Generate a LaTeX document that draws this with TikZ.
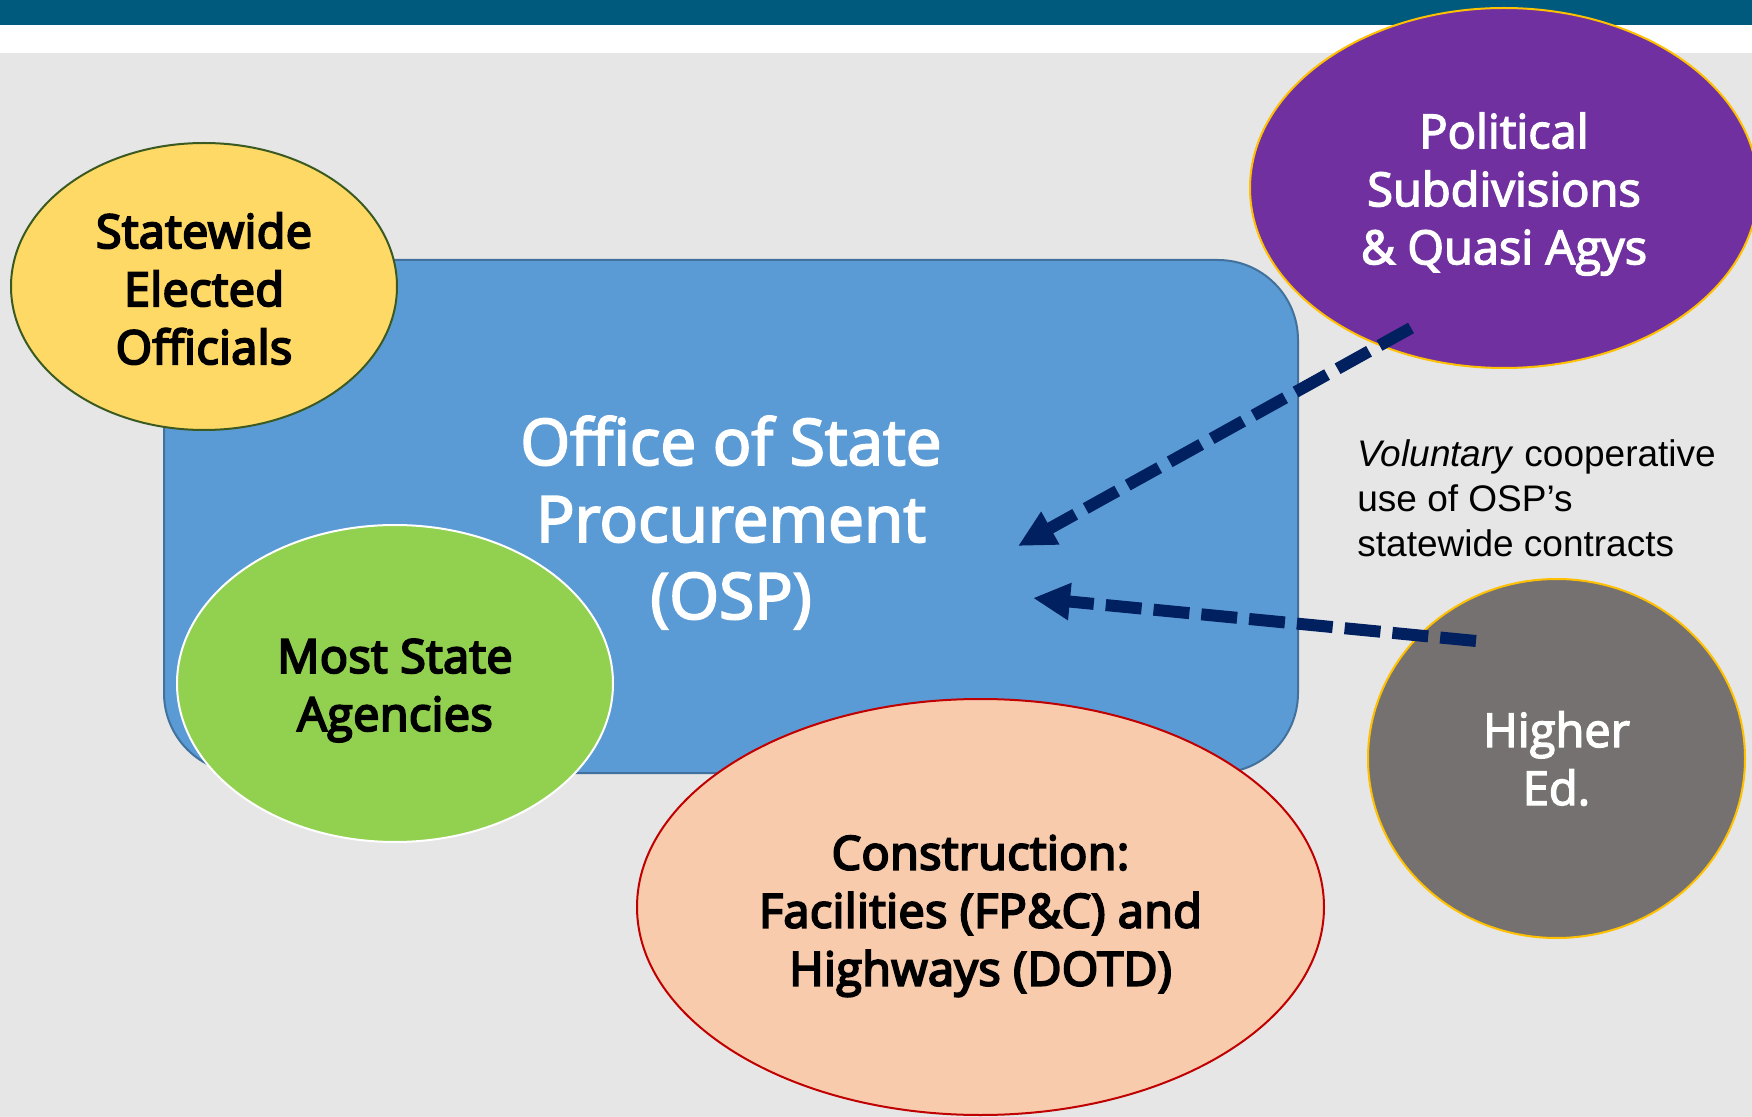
\documentclass[tikz,border=0pt]{standalone}
\usepackage{fontspec}
\setmainfont{Open Sans}
\newfontfamily\sbfont{Open Sans}[FakeBold=4.5,LetterSpace=1]
\newfontfamily\wfont{Open Sans}[FakeBold=3]
\newfontfamily\arialf{Liberation Sans}
\usetikzlibrary{arrows.meta,shapes.geometric}
\definecolor{band}{HTML}{005A7E}
\definecolor{bgc}{HTML}{E6E6E6}
\definecolor{ospfill}{HTML}{5B9BD5}
\definecolor{ospline}{HTML}{41719C}
\definecolor{yel}{HTML}{FFD966}
\definecolor{yelline}{HTML}{3B5A22}
\definecolor{grn}{HTML}{92D050}
\definecolor{pur}{HTML}{7030A0}
\definecolor{gold}{HTML}{FFC000}
\definecolor{gry}{HTML}{767171}
\definecolor{peach}{HTML}{F8CBAD}
\definecolor{redline}{HTML}{C00000}
\definecolor{navy}{HTML}{002060}
\tikzset{
  blob/.style={ellipse, inner sep=0pt, line width=1pt},
  blacktext/.style={inner sep=0pt, align=center, font=\sbfont\fontsize{23.3pt}{29pt}\selectfont, text=black},
  whitetext/.style={inner sep=0pt, align=center, font=\wfont\fontsize{23.5pt}{29pt}\selectfont, text=white},
  voluntaryarrow/.style={draw=navy, line width=6pt, dash pattern=on 18pt off 6pt,
    -{Triangle[length=18.5pt,width=17.5pt]}}
}
\begin{document}
\begin{tikzpicture}[x=0.5pt,y=-0.5pt]
\useasboundingbox (0,0) rectangle (1752,1117);
\fill[bgc] (0,0) rectangle (1752,1117);
\fill[white] (0,25) rectangle (1752,53);
\fill[band] (0,0) rectangle (1752,25);

\node[draw=ospline, fill=ospfill, line width=1pt, rectangle, rounded corners=40pt,
  minimum width=567pt, minimum height=256.5pt] (osp) at (731,516.5) {};
\node[inner sep=0pt, align=center, text=white,
  font=\wfont\fontsize{32pt}{38.5pt}\selectfont] (osptext) at ([yshift=-3pt]osp.center)
  {Office of State\\Procurement\\(OSP)};

\node[blob, draw=yelline, fill=yel, minimum width=193pt, minimum height=143.5pt]
  (swe) at (204,286.5) {};
\node[blacktext] (swetext) at ([yshift=-1pt]swe.center) {Statewide\\Elected\\Officials};

\node[blob, draw=white, fill=grn, minimum width=218pt, minimum height=158.5pt]
  (msa) at (395,683.5) {};
\node[blacktext] (msatext) at ([yshift=-3.5pt]msa.center) {Most State\\Agencies};

\node[blob, draw=redline, fill=peach, minimum width=343.5pt, minimum height=208pt]
  (con) at (980.5,907) {};
\node[blacktext] (context) at ([yshift=-4.5pt]con.center)
  {Construction:\\Facilities (FP\&C) and\\Highways (DOTD)};

\node[blob, draw=gold, fill=pur, minimum width=254pt, minimum height=180pt]
  (pol) at (1504,188) {};
\node[whitetext] (poltext) at ([yshift=-3pt]pol.center)
  {Political\\Subdivisions\\\& Quasi Agys};

\node[blob, draw=gold, fill=gry, minimum width=188.5pt, minimum height=179.5pt]
  (hed) at (1556.5,758.5) {};
\node[whitetext] (hedtext) at (hed.center) {Higher\\Ed.};

\node[anchor=north west, inner sep=0pt, align=left,
  font=\arialf\fontsize{18.5pt}{22.5pt}\selectfont] (vol) at (1357,439)
  {\textit{Voluntary} cooperative\\use of OSP’s\\statewide contracts};

\coordinate (polsrc) at (1411,328);
\coordinate (osptgtA) at (1018,546);
\coordinate (hedsrc) at (1476,641);
\coordinate (osptgtB) at (1033,598);
\draw[voluntaryarrow] (polsrc) -- (osptgtA);
\draw[voluntaryarrow] (hedsrc) -- (osptgtB);
\end{tikzpicture}
\end{document}
